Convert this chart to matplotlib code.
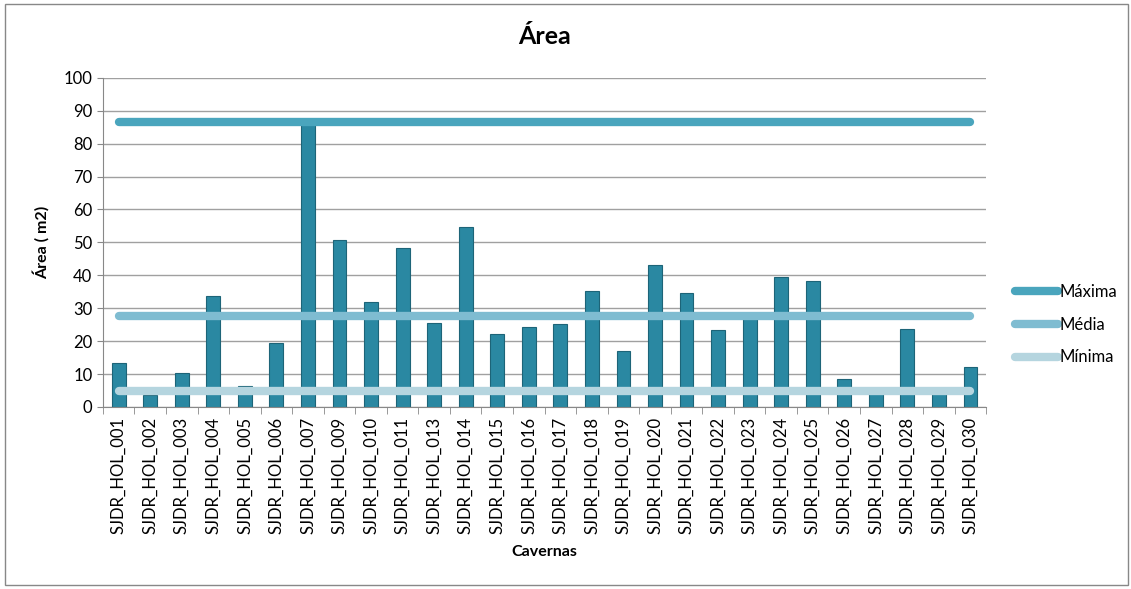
import matplotlib.pyplot as plt
import numpy as np
from matplotlib.patches import Rectangle

plt.rcParams['font.family'] = ['Lato', 'DejaVu Sans']

cavernas = ["SJDR_HOL_001", "SJDR_HOL_002", "SJDR_HOL_003", "SJDR_HOL_004", "SJDR_HOL_005",
            "SJDR_HOL_006", "SJDR_HOL_007", "SJDR_HOL_009", "SJDR_HOL_010", "SJDR_HOL_011",
            "SJDR_HOL_013", "SJDR_HOL_014", "SJDR_HOL_015", "SJDR_HOL_016", "SJDR_HOL_017",
            "SJDR_HOL_018", "SJDR_HOL_019", "SJDR_HOL_020", "SJDR_HOL_021", "SJDR_HOL_022",
            "SJDR_HOL_023", "SJDR_HOL_024", "SJDR_HOL_025", "SJDR_HOL_026", "SJDR_HOL_027",
            "SJDR_HOL_028", "SJDR_HOL_029", "SJDR_HOL_030"]
area = [13.3, 3.6, 10.3, 33.8, 6.3, 19.5, 86.5, 50.7, 31.8, 48.4,
        25.5, 54.7, 22.1, 24.3, 25.2, 35.2, 17.0, 43.2, 34.5, 23.3,
        26.8, 39.6, 38.2, 8.6, 5.8, 23.6, 5.8, 12.2]
maxima = 86.6
media = 27.7
minima = 4.9

fig = plt.figure(figsize=(11.31, 5.89), dpi=100)
ax = fig.add_axes([0.091, 0.309, 0.781, 0.559])

x = np.arange(len(cavernas))
ax.bar(x, area, width=0.44, color='#2a88a2', edgecolor='#1d6478', linewidth=0.8, zorder=2)

ax.plot([x[0], x[-1]], [maxima, maxima], color='#4aa5bd', lw=6, solid_capstyle='round', label='Máxima', zorder=3)
ax.plot([x[0], x[-1]], [media, media], color='#7fbcd1', lw=6, solid_capstyle='round', label='Média', zorder=3)
ax.plot([x[0], x[-1]], [minima, minima], color='#b5d5df', lw=6, solid_capstyle='round', label='Mínima', zorder=3)

ax.set_xlim(-0.5, len(cavernas) - 0.5)
ax.set_ylim(0, 100)
ax.set_yticks(range(0, 101, 10))
ax.set_xticks(x)
ax.set_xticklabels(cavernas, rotation=90, fontsize=12)
ax.tick_params(axis='y', labelsize=12, length=4, color='#888888')
ax.tick_params(axis='x', length=0, pad=7)
# category separator ticks
ax.set_xticks(np.arange(-0.5, len(cavernas)), minor=True)
ax.tick_params(axis='x', which='minor', length=5, color='#888888')

ax.grid(axis='y', color='#a0a0a0', lw=1, zorder=0)
for s in ['top', 'right']:
    ax.spines[s].set_visible(False)
ax.spines['left'].set_color('#888888')
ax.spines['bottom'].set_color('#888888')

ax.set_title('Área', fontsize=18, fontweight='bold', pad=24)
ax.set_ylabel('Área ( m2)', fontsize=11.5, fontweight='bold', labelpad=10)
ax.set_xlabel('Cavernas', fontsize=11.5, fontweight='bold', labelpad=8)

ax.legend(loc='center left', bbox_to_anchor=(1.025, 0.25), frameon=False, fontsize=12,
          handlelength=2.6, handletextpad=0.1, labelspacing=1.0, borderaxespad=0)

fig.patches.append(Rectangle((0.004, 0.006), 0.993, 0.987, transform=fig.transFigure,
                             fill=False, edgecolor='#888888', lw=1))

fig.savefig('out.png', dpi=100)
